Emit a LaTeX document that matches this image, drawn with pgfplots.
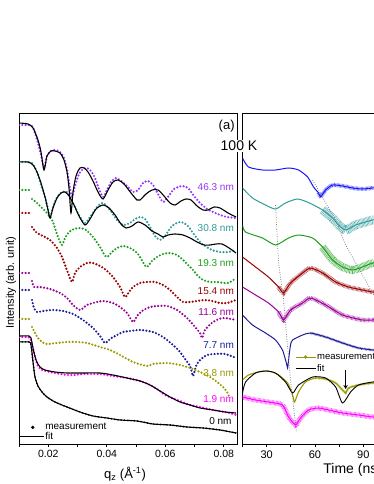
\documentclass[border=0pt]{standalone}
\usepackage{fontspec}
\setmainfont{Liberation Sans}
\usepackage{pgfplots}
\usepackage{pgfplotstable}
\pgfplotsset{compat=1.18}
\usetikzlibrary{arrows.meta}
\definecolor{vio}{HTML}{9933FF}
\definecolor{tea}{HTML}{2E9A9A}
\definecolor{grn}{HTML}{1E9E1E}
\definecolor{drd}{HTML}{990000}
\definecolor{pur}{HTML}{990099}
\definecolor{nav}{HTML}{1C1C99}
\definecolor{oli}{HTML}{999900}
\definecolor{mag}{HTML}{FF00FF}
\definecolor{blu}{HTML}{1414FF}
\newcommand\fs[1]{\fontsize{#1}{#1}\selectfont}
\pgfplotsset{
  meas/.style={line width=2.4pt, dash pattern=on 0pt off 3.3pt, line cap=round, smooth, tension=0.45, forget plot},
  fitl/.style={black, line width=1.1pt, smooth, tension=0.45, forget plot},
  tr/.style={line width=1pt, smooth, tension=0.4, forget plot},
  nz/.style={line width=#1, opacity=0.75, dash pattern=on 0.5pt off 0.8pt, smooth, tension=0.4, forget plot},
  panel/.style={anchor=south west, scale only axis, height=331pt, ymin=0, ymax=331, ytick=\empty,
    xtick pos=left, tick align=outside, major tick length=3pt, minor tick length=3pt,
    axis line style={line width=0.8pt}, every tick/.style={black, line width=0.7pt},
    tick label style={font=\fs{10.5}}, /pgf/number format/assume math mode=true},
}
% right panel traces (time in ns, intensity offset)
\pgfplotstableread{
t y
15 286
18.7 277
27.4 274
35.5 274
43.6 276
49.8 274
55.4 267
59.1 257
62.2 251
63.4 247
66.6 254
70.9 259
77.1 258
83.3 256
89.5 255
95.7 256
100 256
}\tBlu
\pgfplotstableread{
t y
15 256
21.2 246
29.3 239
35.5 235
41.7 241
49.2 245
56.6 241
64.7 234
70.9 226
74.6 219
79 214
85.2 219
91.4 222
95.7 224
100 224
}\tTea
\pgfplotstableread{
t y
15 219
16.9 212
27.4 206
35.5 199
43.6 206
49.8 209
58.5 206
64.7 197
70.9 184
77.1 177
83.3 174
89.5 177
95.7 181
100 182
}\tGrn
\pgfplotstableread{
t y
15 187
23.1 177
31.1 167
37.4 157
40.5 151
44.8 161
52.3 171
57.2 176
64.7 171
72.8 162
80.8 157
89.5 154
95.7 152
100 152
}\tDrd
\pgfplotstableread{
t y
15 157
23.1 149
31.1 141
37.4 132
40.5 124
44.8 134
52.3 141
57.2 146
66.6 139
77.1 129
89.5 124
95.7 124
100 124
}\tPur
\pgfplotstableread{
t y
15 129
21.2 119
29.3 111
35.5 104
39.8 94
41.7 84
42.4 80
43.0 76
43.6 84
44.8 99
46.1 104
52.3 109
57.2 111
66.6 107
77.1 101
87.0 96
95.7 94
100 93
}\tNav
\pgfplotstableread{
t y
15 64
18.7 69
24.9 72
31.1 73
37.4 69
43 61
46.1 49
47.3 42
49.8 52
54.1 62
60.3 66
66.6 65
72.8 61
77.1 54
79 51
80.8 56
87 59
95.7 61
100 61
}\tOli
\pgfplotstableread{
t y
15 51
16.9 62
23.1 71
29.3 73
35.5 71
41.7 62
46.1 51
49.8 59
58.5 67
66.6 66
72.8 57
77.1 41
82.1 52
87 59
95.7 62
100 62
}\tFit
\pgfplotstableread{
t y
15 47
23.1 44
31.1 42
39.8 39
43.6 27
47.9 19
51 26
56 34
62.2 36
68.4 34
77.1 31
87 29
95.7 27
100 27
}\tMag
\begin{document}
\begin{tikzpicture}
\useasboundingbox (0,0) rectangle (374pt,484pt);
\clip (0,0) rectangle (374pt,484pt);
% ---------------- left panel: reflectivity ----------------
\begin{axis}[panel, at={(19pt,40pt)}, width=218pt,
  xmin=0.01, xmax=0.0845, scaled x ticks=false,
  xtick={0.02,0.04,0.06,0.08}, xticklabels={0.02,0.04,0.06,0.08},
  minor xtick={0.01,0.03,0.05,0.07},
  xlabel={q\textsubscript{z} (Å\textsuperscript{-1})},
  xlabel style={font=\fs{13}, at={(axis description cs:0.486,0)}, anchor=center, yshift=-30pt},
  ylabel={Intensity (arb. unit)},
  ylabel style={font=\fs{11}, at={(axis description cs:-0.036,0.487)}, anchor=center},
  legend style={at={(0,0.066)}, anchor=north west, draw=none, fill=none, font=\fs{10},
    inner sep=0pt, row sep=-1pt, nodes={inner sep=1pt}},
  legend cell align=left]
\addlegendimage{legend image code/.code={\path[draw=none] (0pt,0pt) -- (24pt,0pt); \fill[black] (13pt,0pt) circle (1.5pt);}}
\addlegendentry{measurement}
\addlegendimage{legend image code/.code={\draw[black,line width=1.1pt] (0pt,0pt) -- (24pt,0pt);}}
\addlegendentry{fit}
% 46.3 nm
\addplot[meas, vio] coordinates {(0.0100,319)(0.01239,319)(0.01444,318)(0.01547,311)(0.01649,301)(0.01752,289)(0.01855,276)(0.01957,288)(0.02094,293)(0.02265,294)(0.02401,292)(0.02538,286)(0.02641,274)(0.02743,256)(0.02812,247)(0.02914,258)(0.03051,270)(0.03188,275)(0.03324,276)(0.03461,273)(0.03598,266)(0.03734,255)(0.03871,247)(0.04008,254)(0.04145,262)(0.04315,266)(0.04486,263)(0.04691,258)(0.04897,252)(0.05067,254)(0.05238,261)(0.05409,263)(0.05580,259)(0.05751,250)(0.05922,242)(0.06093,247)(0.06298,255)(0.06571,258)(0.06776,256)(0.06981,248)(0.07187,241)(0.07426,235)(0.07631,232)(0.07870,229)(0.08109,227)(0.08417,226)};
% 30.8 nm
\addplot[meas, tea] coordinates {(0.0100,282)(0.01239,282)(0.01444,281)(0.01547,276)(0.01649,269)(0.01752,259)(0.01889,247)(0.01991,235)(0.02060,226)(0.02162,237)(0.02299,247)(0.02470,252)(0.02641,252)(0.02743,247)(0.02914,237)(0.03085,227)(0.03256,221)(0.03427,227)(0.03666,237)(0.03871,241)(0.04110,234)(0.04350,224)(0.04555,219)(0.04794,221)(0.04965,225)(0.05136,227)(0.05307,225)(0.05478,217)(0.05648,208)(0.05819,204)(0.05990,208)(0.06230,218)(0.06503,222)(0.06742,219)(0.06947,211)(0.07187,202)(0.07357,198)(0.07597,194)(0.07870,192)(0.08144,192)(0.08417,194)};
% 19.3 nm
\addplot[meas, grn] coordinates {(0.0100,254)(0.01239,254)(0.01410,254)};
\addplot[meas, grn] coordinates {(0.01444,245)(0.01615,241)(0.01786,236)(0.01957,231)(0.02128,224)(0.02230,216)(0.02333,207)(0.02470,199)(0.02572,206)(0.02709,212)(0.02880,215)(0.03085,216)(0.03290,214)(0.03529,207)(0.03769,197)(0.03905,190)(0.04008,187)(0.04179,192)(0.04350,196)(0.04555,198)(0.04794,196)(0.04999,192)(0.05136,187)(0.05273,180)(0.05375,177)(0.05546,183)(0.05717,187)(0.05922,190)(0.06161,191)(0.06400,189)(0.06606,184)(0.06776,179)(0.06947,174)(0.07118,168)(0.07289,164)(0.07528,162)(0.07768,162)(0.08007,161)(0.08144,161)(0.08280,163)(0.08417,166)};
% 15.4 nm
\addplot[meas, drd] coordinates {(0.0100,231)(0.01239,231)(0.01376,231)};
\addplot[meas, drd] coordinates {(0.01444,217)(0.01615,211)(0.01820,208)(0.02060,204)(0.02299,196)(0.02470,187)(0.02572,179)(0.02675,171)(0.02812,162)(0.02914,171)(0.03085,177)(0.03324,181)(0.03529,181)(0.03769,178)(0.03974,174)(0.04213,167)(0.04452,157)(0.04623,147)(0.04760,152)(0.04897,157)(0.05136,161)(0.05375,162)(0.05648,162)(0.05922,159)(0.06161,154)(0.06400,147)(0.06606,142)(0.06845,142)(0.07084,143)(0.07357,144)(0.07597,143)(0.07870,141)(0.08109,141)(0.08417,144)};
% 11.6 nm
\addplot[meas, pur] coordinates {(0.0100,171)(0.01239,171)(0.01376,171)};
\addplot[meas, pur] coordinates {(0.01444,163)(0.01513,157)(0.01718,157)(0.02060,155)(0.02401,151)(0.02641,146)(0.02846,139)(0.03085,134)(0.03324,139)(0.03666,142)(0.03871,143)(0.04213,141)(0.04452,137)(0.04691,131)(0.04897,122)(0.05033,128)(0.05204,133)(0.05478,137)(0.05751,138)(0.06059,138)(0.06400,134)(0.06742,126)(0.07016,117)(0.07187,111)(0.07255,106)(0.07357,114)(0.07631,122)(0.07973,126)(0.08417,124)};
% 7.7 nm
\addplot[meas, nav] coordinates {(0.0100,154)(0.01239,154)(0.01376,154)};
\addplot[meas, nav] coordinates {(0.01444,144)(0.01513,136)(0.01615,132)(0.01820,133)(0.02162,134)(0.02504,133)(0.02846,130)(0.03188,124)(0.03529,116)(0.03769,108)(0.03939,101)(0.04110,105)(0.04350,109)(0.04555,112)(0.04794,113)(0.05136,114)(0.05580,112)(0.05922,107)(0.06264,99)(0.06503,92)(0.06674,85)(0.06845,78)(0.06947,68)(0.07050,78)(0.07187,84)(0.07426,89)(0.07699,90)(0.08041,90)(0.08417,86)};
% 3.8 nm
\addplot[meas, oli] coordinates {(0.0100,125)(0.01239,125)(0.01376,125)};
\addplot[meas, oli] coordinates {(0.01444,117)(0.01547,111)(0.01649,106)(0.01786,102)(0.01957,100)(0.02299,101)(0.02641,102)(0.02982,102)(0.03324,101)(0.03769,97)(0.04110,94)(0.04452,89)(0.04897,82)(0.05375,78)(0.05580,80)(0.06059,81)(0.06503,79)(0.06845,76)(0.07187,72)(0.07528,67)(0.07768,62)(0.07973,57)(0.08109,52)(0.08178,48)};
% 1.9 nm
\addplot[meas, mag] coordinates {(0.0100,107)(0.01239,107)(0.01376,106)(0.01444,99)(0.01547,87)(0.01649,78)(0.01786,74)(0.02060,72)(0.02401,70)(0.02641,69)(0.02914,69)(0.03188,70)(0.03495,70)(0.03769,70)(0.04213,68)(0.04691,66)(0.05136,63)(0.05478,59)(0.05717,55)(0.05990,49)(0.06230,46)(0.06503,43)(0.06845,39)(0.07187,37)(0.07631,34)(0.08041,32)(0.08315,30)(0.08417,29)};
% 0 nm
\addplot[meas, black, line width=1.8pt] coordinates {(0.0100,102)(0.01342,102)(0.01410,99)(0.01479,82)(0.01547,67)(0.01649,58)(0.01786,52)(0.01957,47)(0.02230,42)(0.02641,37)(0.03085,32)(0.03529,28)(0.04008,26)(0.04452,24)(0.05033,23)(0.05580,20)(0.06161,19)(0.06742,17)(0.07289,16)(0.07870,14)(0.08417,11)};
% fits
\addplot[fitl] coordinates {(0.0100,321)(0.01308,320)(0.01479,316)(0.01649,304)(0.01752,292)(0.01855,274)(0.01957,288)(0.02094,293)(0.02230,293)(0.02401,291)(0.02538,284)(0.02641,272)(0.02709,256)(0.02777,231)(0.02846,252)(0.02948,268)(0.03085,276)(0.03222,276)(0.03359,272)(0.03529,263)(0.03700,252)(0.03871,245)(0.04042,254)(0.04213,262)(0.04384,264)(0.04589,260)(0.04828,251)(0.05033,244)(0.05136,244)(0.05341,250)(0.05546,254)(0.05751,254)(0.05956,248)(0.06161,241)(0.06332,239)(0.06537,243)(0.06708,245)(0.06879,244)(0.07084,238)(0.07289,234)(0.07460,234)(0.07665,237)(0.07870,236)(0.08144,231)(0.08417,227)};
\addplot[fitl] coordinates {(0.0100,282)(0.01308,282)(0.01479,279)(0.01615,272)(0.01752,261)(0.01889,247)(0.01991,234)(0.02060,226)(0.02162,236)(0.02299,246)(0.02436,251)(0.02572,252)(0.02709,248)(0.02880,239)(0.03051,228)(0.03256,219)(0.03427,225)(0.03632,235)(0.03871,239)(0.04076,236)(0.04281,229)(0.04486,220)(0.04657,216)(0.04862,218)(0.05067,222)(0.05307,219)(0.05546,213)(0.05751,210)(0.05922,207)(0.06093,209)(0.06332,210)(0.06606,209)(0.06845,206)(0.07084,202)(0.07323,199)(0.07528,199)(0.07733,200)(0.07939,200)(0.08178,196)(0.08417,191)};
\addplot[fitl] coordinates {(0.0100,108)(0.01342,108)(0.01410,106)(0.01479,96)(0.01581,84)(0.01718,77)(0.01889,74)(0.02230,72)(0.02641,71)(0.03188,71)(0.03769,71)(0.04213,69)(0.04691,66)(0.05136,63)(0.05478,59)(0.05819,53)(0.06161,47)(0.06503,42)(0.06845,39)(0.07187,36)(0.07631,34)(0.08041,32)(0.08417,31)};
\addplot[fitl] coordinates {(0.0100,102)(0.01342,102)(0.01410,99)(0.01479,82)(0.01547,67)(0.01649,58)(0.01786,52)(0.01957,47)(0.02230,42)(0.02641,37)(0.03085,32)(0.03529,28)(0.04008,26)(0.04452,24)(0.05033,23)(0.05580,20)(0.06161,19)(0.06742,17)(0.07289,16)(0.07870,14)(0.08417,11)};
% thickness labels
\begin{scope}[every node/.style={anchor=east, inner sep=0pt, font=\fs{10}}]
\node[vio] at (axis cs:0.0835,257) {46.3 nm};
\node[tea] at (axis cs:0.0835,216) {30.8 nm};
\node[grn] at (axis cs:0.0835,181) {19.3 nm};
\node[drd] at (axis cs:0.0835,153) {15.4 nm};
\node[pur] at (axis cs:0.0835,132) {11.6 nm};
\node[nav] at (axis cs:0.0835,99) {7.7 nm};
\node[oli] at (axis cs:0.0835,71) {3.8 nm};
\node[mag] at (axis cs:0.0835,45) {1.9 nm};
\node[black] at (axis cs:0.0827,23) {0 nm};
\end{scope}
\node[anchor=east, inner sep=0pt, font=\fs{13}] at (rel axis cs:0.99,0.961) {(a)};
\end{axis}
% ---------------- right panel: time traces ----------------
\begin{axis}[panel, at={(242.5pt,40pt)}, width=145pt,
  xmin=15, xmax=105, xtick={30,60,90}, minor xtick={15,45,75,105},
  tick label style={font=\fs{11}},
  xlabel={Time (ns)},
  xlabel style={font=\fs{14}, at={(axis description cs:0.76,0)}, anchor=center, yshift=-26pt},
  legend style={at={(0.362,0.278)}, anchor=north west, draw=none, fill=none, font=\fs{9.5},
    inner sep=0pt, row sep=1.5pt, nodes={inner sep=1pt}},
  legend cell align=left]
\addlegendimage{legend image code/.code={\draw[oli,line width=0.9pt] (0pt,0pt) -- (20pt,0pt); \fill[oli] (10pt,0pt) circle (1.5pt);}}
\addlegendentry{measurement}
\addlegendimage{legend image code/.code={\draw[black,line width=0.9pt] (0pt,0pt) -- (20pt,0pt);}}
\addlegendentry{fit}
% noise bands
\addplot[nz=4pt, blu, restrict x to domain=62:105] table {\tBlu};
\addplot[nz=9pt, tea, restrict x to domain=64:105] table {\tTea};
\addplot[nz=8pt, grn, restrict x to domain=64:105] table {\tGrn};
\addplot[nz=4.5pt, drd, restrict x to domain=36:105] table {\tDrd};
\addplot[nz=4.5pt, pur, restrict x to domain=36:105] table {\tPur};
\addplot[nz=2.5pt, nav, restrict x to domain=55:105] table {\tNav};
\addplot[nz=2.5pt, oli, restrict x to domain=60:105] table {\tOli};
\addplot[nz=5pt, mag] table {\tMag};
% traces
\addplot[tr, blu] table {\tBlu};
\addplot[tr, tea] table {\tTea};
\addplot[tr, grn] table {\tGrn};
\addplot[tr, drd] table {\tDrd};
\addplot[tr, pur] table {\tPur};
\addplot[tr, nav] table {\tNav};
\addplot[tr, oli, line width=1.1pt] table {\tOli};
\addplot[tr, black, line width=0.9pt] table {\tFit};
\addplot[tr, mag] table {\tMag};
% guides
\addplot[gray, line width=0.8pt, dash pattern=on 0.8pt off 1.6pt, forget plot] coordinates {(58.5,264)(72.8,224)(79,199)(95.7,151)(103.2,129)};
\addplot[gray, line width=0.8pt, dash pattern=on 0.8pt off 1.6pt, forget plot] coordinates {(35.5,239)(37.4,181)(40.5,144)(42.3,109)(44.8,64)(48.5,12)};
\draw[-{Stealth[length=4pt,width=4.5pt]}, line width=0.9pt] (axis cs:79,74) -- (axis cs:79,55);
\end{axis}
\node[fill=white, inner sep=1pt, font=\fs{14}] at (239pt,338pt) {100 K};
\end{tikzpicture}
\end{document}
